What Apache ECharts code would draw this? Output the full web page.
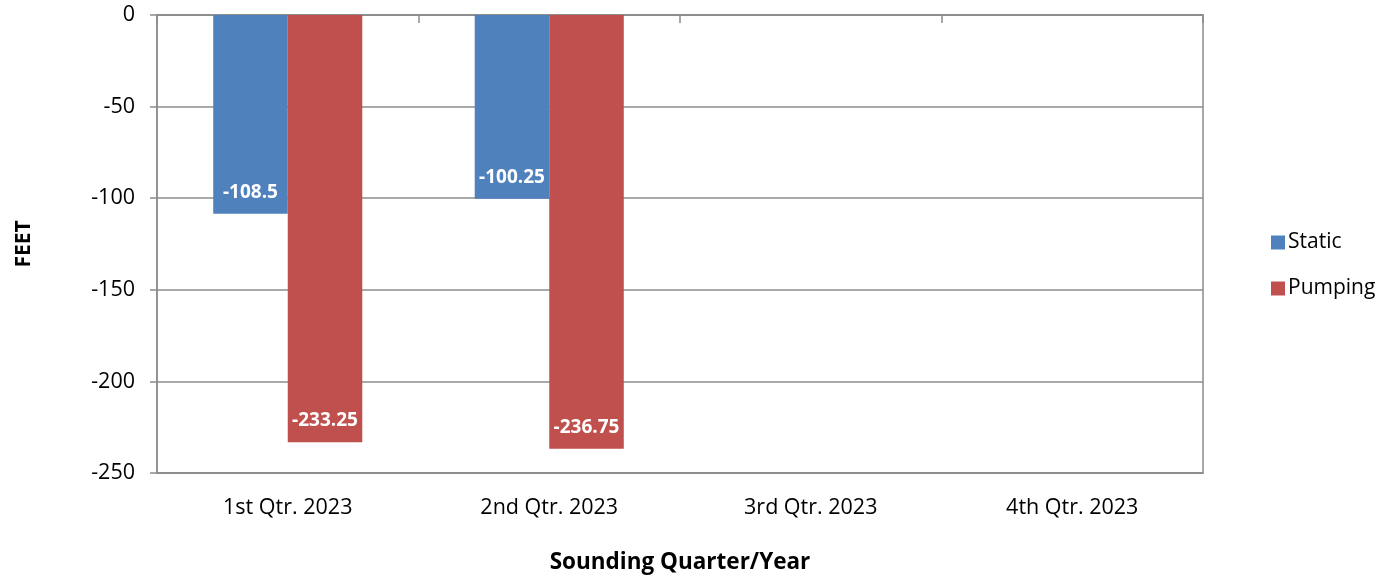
<!DOCTYPE html>
<html><head><meta charset="utf-8">
<script src="https://cdn.jsdelivr.net/npm/echarts@6/dist/echarts.min.js"></script>
<style>html,body{margin:0;padding:0;background:#fff}#c{width:1383px;height:579px}</style>
</head><body><div id="c"></div>
<script>
const categories = ["1st Qtr. 2023", "2nd Qtr. 2023", "3rd Qtr. 2023", "4th Qtr. 2023"];
const staticValues = [-108.5, -100.25, null, null];
const pumpingValues = [-233.25, -236.75, null, null];
const seriesNames = ["Static", "Pumping"];
const yTicks = { min: -250, max: 0, interval: 50 };

const FONT = '"Open Sans", sans-serif';
const GRID = '#8c8c8c';
const chart = echarts.init(document.getElementById('c'), null, {renderer: 'canvas'});
const lbl = {show: true, position: 'insideBottom', distance: 12, color: '#fff', fontWeight: 'bold', fontSize: 19, fontFamily: FONT};
chart.setOption({
  animation: false,
  grid: {left: 157, right: 180, top: 15, bottom: 105, show: true, borderColor: GRID, borderWidth: 1.5},
  legend: {
    orient: 'vertical', left: 1266, top: 227, itemGap: 25, itemWidth: 14, itemHeight: 14,
    textStyle: {fontSize: 21, fontFamily: FONT, color: '#000', padding: [0,0,0,-2]},
    data: seriesNames.map(n => ({name: n, icon: 'rect'}))
  },
  xAxis: [{
    type: 'category', data: categories, position: 'bottom',
    axisLine: {onZero: false, lineStyle: {color: GRID, width: 1.5}},
    axisTick: {show: false},
    axisLabel: {fontSize: 21.5, fontFamily: FONT, color: '#000', margin: 24},
    name: 'Sounding Quarter/Year', nameLocation: 'middle', nameGap: 78,
    nameTextStyle: {fontSize: 22.5, fontWeight: 'bold', fontFamily: FONT, color: '#000'}
  }, {
    type: 'category', data: categories, position: 'top',
    axisLine: {show: true, onZero: false, lineStyle: {color: GRID, width: 1.5}},
    axisTick: {show: true, inside: true, length: 8, lineStyle: {color: GRID, width: 1.5}},
    axisLabel: {show: false}
  }],
  yAxis: {
    type: 'value', min: yTicks.min, max: yTicks.max, interval: yTicks.interval,
    axisLine: {show: true, lineStyle: {color: GRID, width: 1.5}},
    axisTick: {show: true, length: 7, lineStyle: {color: GRID, width: 1.5}},
    axisLabel: {fontSize: 21.5, fontFamily: FONT, color: '#000', margin: 22},
    splitLine: {lineStyle: {color: GRID, width: 1.5}},
    name: 'FEET', nameLocation: 'middle', nameGap: 122, nameRotate: 90,
    nameTextStyle: {fontSize: 21, fontWeight: 'bold', fontFamily: FONT, color: '#000'}
  },
  series: [
    {name: seriesNames[0], type: 'bar', data: staticValues, barGap: '0%', barCategoryGap: '43%',
     itemStyle: {color: '#4F81BD'}, label: lbl},
    {name: seriesNames[1], type: 'bar', data: pumpingValues,
     itemStyle: {color: '#C0504D'}, label: lbl}
  ]
});
</script></body></html>
